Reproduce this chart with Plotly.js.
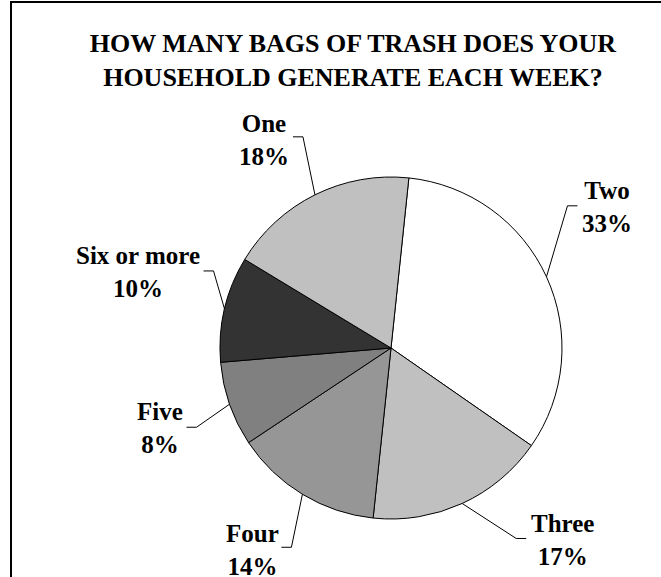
<!DOCTYPE html>
<html>
<head>
<meta charset="utf-8">
<script src="https://cdn.plot.ly/plotly-3.0.1.min.js"></script>
<style>html,body{margin:0;padding:0;background:#fff;}#chart{width:661px;height:577px;}</style>
</head>
<body>
<div id="chart"></div>
<script>
// ---- data ----
const categories = ['Two', 'Three', 'Four', 'Five', 'Six or more', 'One'];
const values = [33, 17, 14, 8, 10, 18];
const titleText = 'HOW MANY BAGS OF TRASH DOES YOUR<br>HOUSEHOLD GENERATE EACH WEEK?';

// ---- styles / layout config ----
const sliceColors = ['#ffffff', '#c0c0c0', '#969696', '#808080', '#333333', '#c0c0c0'];
const W = 661, H = 577;
const CX = 391, CY = 348, R = 171;   // pie centre / radius in px
const ROT = 6;                        // start angle (deg, clockwise from 12 o'clock)
// leader elbow offsets from the slice edge point [dx, dy, horizontal length]
const leaderOffsets = [[21, -71, 10], [54, 35, 10], [-11, 53, -10], [-33, 23, -10], [-11, -38, -10], [-12, -58, -10]];
// label block centre offsets from the slice edge point
const labelOffsets = [[61, -70], [100, 37], [-50, 56], [-70, 24], [-87, -37], [-51, -55]];
const FONT = 'Liberation Serif';

const px = x => x / W;
const py = y => 1 - y / H;

const total = values.reduce((a, b) => a + b, 0);
let cum = 0;
const annotations = [];
const shapes = [];
values.forEach((v, i) => {
  const mid = ROT + (cum + v / 2) / total * 360;
  cum += v;
  const t = mid * Math.PI / 180;
  const ax = CX + R * Math.sin(t), ay = CY - R * Math.cos(t);
  const [ex, ey, hl] = leaderOffsets[i];
  const e1x = ax + ex, e1y = ay + ey, e2x = e1x + hl;
  shapes.push({
    type: 'path', xref: 'paper', yref: 'paper',
    path: `M ${px(ax)} ${py(ay)} L ${px(e1x)} ${py(e1y)} L ${px(e2x)} ${py(e1y)}`,
    line: {color: '#000', width: 1}
  });
  const [lx, ly] = labelOffsets[i];
  annotations.push({
    xref: 'paper', yref: 'paper', x: px(ax + lx), y: py(ay + ly),
    xanchor: 'center', yanchor: 'middle', showarrow: false, align: 'center',
    text: `<b>${categories[i]}<br>${Math.round(v / total * 100)}%</b>`,
    font: {family: FONT, size: 25, color: '#000'}
  });
});

// outer frame
shapes.push({type: 'rect', xref: 'paper', yref: 'paper', x0: px(11), x1: 1.1, y0: py(2), y1: -0.1,
  line: {color: '#000', width: 2}, fillcolor: 'rgba(0,0,0,0)'});

const trace = {
  type: 'pie',
  labels: categories,
  values: values,
  sort: false,
  direction: 'clockwise',
  rotation: ROT,
  textinfo: 'none',
  hoverinfo: 'label+percent',
  showlegend: false,
  marker: {colors: sliceColors, line: {color: '#000', width: 1}},
  domain: {x: [px(CX - R), px(CX + R)], y: [py(CY + R), py(CY - R)]}
};

const layout = {
  width: W, height: H,
  margin: {l: 0, r: 0, t: 0, b: 0},
  paper_bgcolor: '#fff',
  font: {family: FONT, color: '#000'},
  title: {
    text: `<b>${titleText}</b>`,
    font: {family: FONT, size: 26, color: '#000'},
    x: 353 / W, xref: 'container', xanchor: 'center',
    y: 1 - 52 / H, yref: 'container', yanchor: 'middle'
  },
  annotations: annotations,
  shapes: shapes,
  showlegend: false
};

Plotly.newPlot('chart', [trace], layout, {displayModeBar: false, staticPlot: true});
</script>
</body>
</html>
